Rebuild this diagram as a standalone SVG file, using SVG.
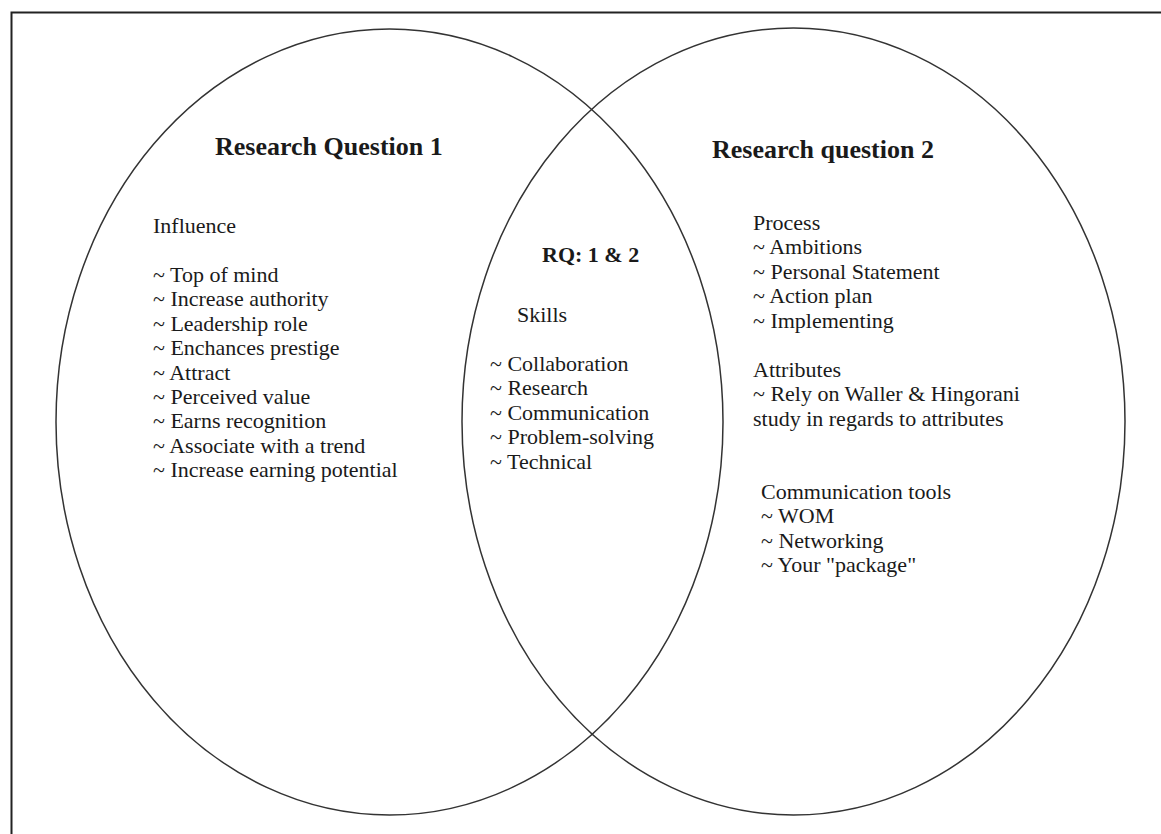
<svg xmlns="http://www.w3.org/2000/svg" width="1161" height="834" viewBox="0 0 1161 834">
<style>
.frame{fill:none;stroke:#222;stroke-width:2}
.set{fill:none;stroke:#333;stroke-width:1.5}
text{font-family:"Liberation Serif","Times New Roman",serif;fill:#1a1a1a}
.title{font-size:26px;font-weight:bold}
.head{font-size:22px;font-weight:bold}
.body{font-size:22px}
</style>
<rect width="1161" height="834" fill="#fff"/>
<path class="frame" d="M11.5,834 V12.5 H1161"/>
<g id="rq1">
<ellipse class="set" cx="389.5" cy="422" rx="333.5" ry="393"/>
<text class="title" x="215" y="155">Research Question 1</text>
<text class="body" x="153" y="233">Influence</text>
<text class="body" x="153" y="282">~ Top of mind</text>
<text class="body" x="153" y="306.4">~ Increase authority</text>
<text class="body" x="153" y="330.8">~ Leadership role</text>
<text class="body" x="153" y="355.2">~ Enchances prestige</text>
<text class="body" x="153" y="379.6">~ Attract</text>
<text class="body" x="153" y="404">~ Perceived value</text>
<text class="body" x="153" y="428.4">~ Earns recognition</text>
<text class="body" x="153" y="452.8">~ Associate with a trend</text>
<text class="body" x="153" y="477.2">~ Increase earning potential</text>
</g>
<g id="rq2">
<ellipse class="set" cx="793.5" cy="421.5" rx="331.5" ry="393.5"/>
<text class="title" x="712" y="158">Research question 2</text>
<text class="body" x="753" y="230">Process</text>
<text class="body" x="753" y="254.4">~ Ambitions</text>
<text class="body" x="753" y="278.8">~ Personal Statement</text>
<text class="body" x="753" y="303.2">~ Action plan</text>
<text class="body" x="753" y="327.6">~ Implementing</text>
<text class="body" x="753" y="377">Attributes</text>
<text class="body" x="753" y="401.4">~ Rely on Waller &amp; Hingorani</text>
<text class="body" x="753" y="425.8">study in regards to attributes</text>
<text class="body" x="761" y="499">Communication tools</text>
<text class="body" x="761" y="523.4">~ WOM</text>
<text class="body" x="761" y="547.8">~ Networking</text>
<text class="body" x="761" y="572.2">~ Your "package"</text>
</g>
<g id="rq1and2">
<text class="head" x="542" y="262">RQ: 1 &amp; 2</text>
<text class="body" x="517" y="322">Skills</text>
<text class="body" x="490" y="371">~ Collaboration</text>
<text class="body" x="490" y="395.4">~ Research</text>
<text class="body" x="490" y="419.8">~ Communication</text>
<text class="body" x="490" y="444.2">~ Problem-solving</text>
<text class="body" x="490" y="468.6">~ Technical</text>
</g>
</svg>
